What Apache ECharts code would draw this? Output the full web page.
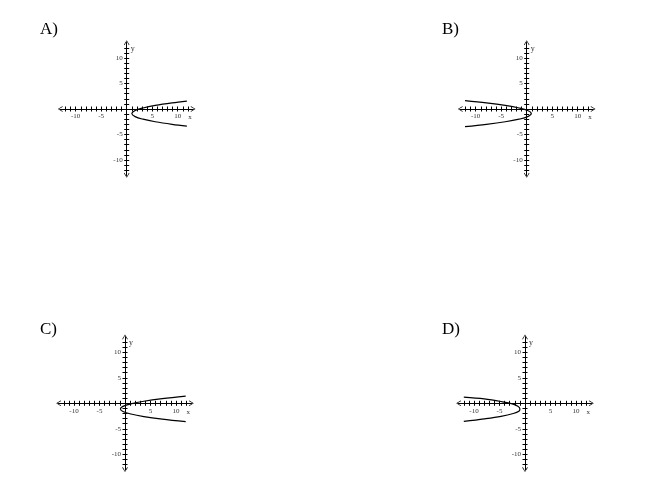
<!DOCTYPE html>
<html>
<head>
<meta charset="utf-8">
<script src="https://cdn.jsdelivr.net/npm/echarts@6/dist/echarts.min.js"></script>
<style>
  html, body { margin: 0; padding: 0; background: #fff; }
  #chart { width: 650px; height: 489px; }
</style>
</head>
<body>
<div id="chart"></div>
<script>
// ---- data ----
const panelLetters = ['A)', 'B)', 'C)', 'D)'];
const xTicks = [-12,-11,-10,-9,-8,-7,-6,-5,-4,-3,-2,-1,1,2,3,4,5,6,7,8,9,10,11,12];
const yTicks = [-12,-11,-10,-9,-8,-7,-6,-5,-4,-3,-2,-1,1,2,3,4,5,6,7,8,9,10,11,12];
const xTickLabels = [-10, -5, 5, 10];
const yTickLabels = [-10, -5, 5, 10];
const axisMin = -13;
const axisMax = 13;

// traced points [x, y] along each parabola
const curveA = [[11.8,-3.35],[8.9,-3.0],[5.6,-2.5],[3.2,-2.0],[1.65,-1.5],[1.0,-0.9],[1.65,-0.3],[3.2,0.2],[5.6,0.7],[8.9,1.2],[11.8,1.55]];
const curveB = [[-12.1,-3.45],[-7.9,-3.0],[-4.2,-2.5],[-1.5,-2.0],[0.2,-1.5],[0.9,-0.9],[0.2,-0.3],[-1.5,0.2],[-4.2,0.7],[-7.9,1.2],[-12.1,1.65]];
const curveC = [[11.9,-3.6],[7.3,-3.1],[3.7,-2.6],[1.15,-2.1],[-0.4,-1.6],[-0.9,-1.1],[-0.4,-0.6],[1.15,-0.1],[3.7,0.4],[7.3,0.9],[11.9,1.4]];
const curveD = [[-12.0,-3.55],[-8.0,-3.05],[-4.7,-2.55],[-2.3,-2.0],[-1.2,-1.55],[-1.0,-1.1],[-1.4,-0.6],[-2.5,-0.1],[-4.7,0.35],[-8.0,0.85],[-12.0,1.2]];
const curves = [curveA, curveB, curveC, curveD];

// ---- layout ----
const origins = [[126.7, 109], [526.7, 109], [125, 403.3], [525, 403.3]];
const letterPos = [[35, 16], [437, 16], [35, 316], [437, 316]];
const pxPerUnit = 5.1;
const half = (axisMax - axisMin) / 2 * pxPerUnit;
const serif = 'Liberation Serif';
const arrowPath = 'path://M0,0 L5,8 L4,9 L0,2 L-4,9 L-5,8 Z';

const grids = [], xAxes = [], yAxes = [], series = [], titles = [];
const lineStyle = { color: '#000', width: 1 };
const tickStyle = { color: '#000', width: 1 };
const labelStyle = { fontFamily: serif, fontSize: 7, color: '#333' };

origins.forEach(function (o, i) {
  grids.push({ left: o[0] - half, top: o[1] - half, width: 2 * half, height: 2 * half });
  titles.push({ text: panelLetters[i], left: letterPos[i][0], top: letterPos[i][1],
    textStyle: { fontFamily: serif, fontSize: 17, fontWeight: 'normal', color: '#000' } });
  const xi = xAxes.length, yi = yAxes.length;

  // x axis through the middle of the grid (value 0), ticks and labels below
  xAxes.push({
    type: 'value', gridIndex: i, min: axisMin, max: axisMax, position: 'bottom', offset: -half,
    axisLine: { onZero: false, lineStyle: lineStyle, symbol: [arrowPath, arrowPath], symbolSize: [8, 5] },
    axisTick: { customValues: xTicks, length: 2.5, lineStyle: tickStyle },
    axisLabel: { customValues: xTickLabels, margin: 4, ...labelStyle },
    splitLine: { show: false },
    name: 'x', nameLocation: 'end', nameGap: -3,
    nameTextStyle: { ...labelStyle, align: 'center', verticalAlign: 'top', padding: [5, 0, 0, 0] }
  });
  // companion x axis: ticks above the same line
  xAxes.push({
    type: 'value', gridIndex: i, min: axisMin, max: axisMax, position: 'top', offset: -half,
    axisLine: { onZero: false, lineStyle: lineStyle },
    axisTick: { customValues: xTicks, length: 2.5, lineStyle: tickStyle },
    axisLabel: { show: false },
    splitLine: { show: false }
  });
  // y axis through the middle, ticks and labels on the left
  yAxes.push({
    type: 'value', gridIndex: i, min: axisMin, max: axisMax, position: 'left', offset: -half,
    axisLine: { onZero: false, lineStyle: lineStyle, symbol: [arrowPath, arrowPath], symbolSize: [8, 5] },
    axisTick: { customValues: yTicks, length: 2.5, lineStyle: tickStyle },
    axisLabel: { customValues: yTickLabels, margin: 4, ...labelStyle },
    splitLine: { show: false },
    name: 'y', nameLocation: 'end', nameGap: -2,
    nameTextStyle: { ...labelStyle, fontSize: 8, align: 'left', verticalAlign: 'top', padding: [0, 0, 0, 4] }
  });
  // companion y axis: ticks on the right
  yAxes.push({
    type: 'value', gridIndex: i, min: axisMin, max: axisMax, position: 'right', offset: -half,
    axisLine: { onZero: false, lineStyle: lineStyle },
    axisTick: { customValues: yTicks, length: 2.5, lineStyle: tickStyle },
    axisLabel: { show: false },
    splitLine: { show: false }
  });

  series.push({
    type: 'line', xAxisIndex: xi, yAxisIndex: yi,
    data: curves[i], smooth: 0.35, showSymbol: false, symbol: 'none',
    lineStyle: { color: '#000', width: 1.2 }, silent: true, animation: false
  });
});

const chart = echarts.init(document.getElementById('chart'));
chart.setOption({
  backgroundColor: '#fff', animation: false,
  title: titles, grid: grids, xAxis: xAxes, yAxis: yAxes, series: series
});
</script>
</body>
</html>
